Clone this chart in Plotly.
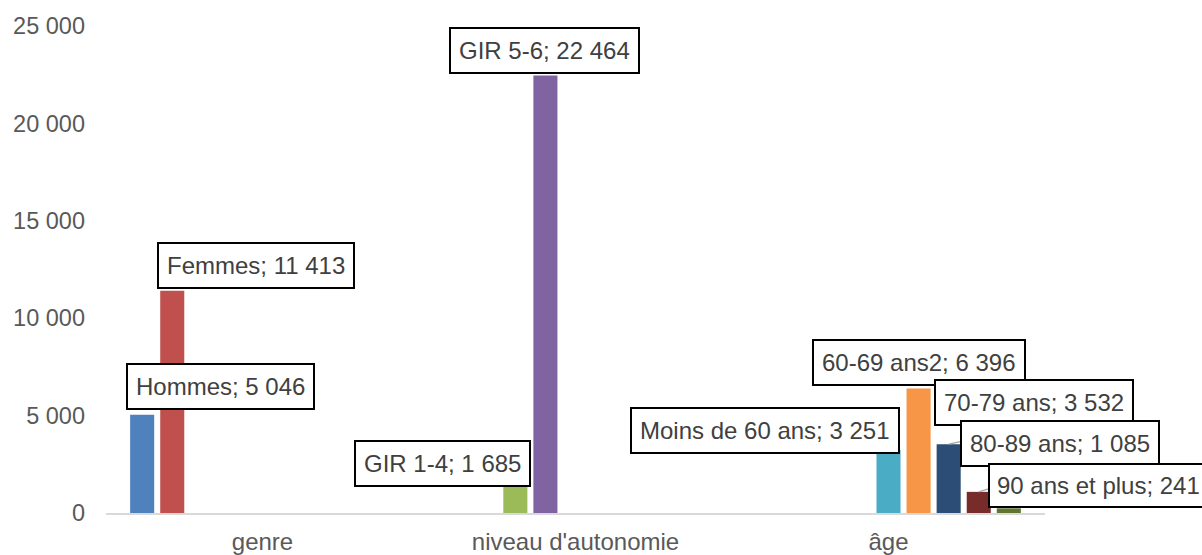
import plotly.graph_objects as go

categories = ["genre", "niveau d'autonomie", "âge"]
series_names = ["Hommes", "Femmes", "GIR 1-4", "GIR 5-6", "Moins de 60 ans",
                "60-69 ans2", "70-79 ans", "80-89 ans", "90 ans et plus"]
series_category = [0, 0, 1, 1, 2, 2, 2, 2, 2]
series_values = [5046, 11413, 1685, 22464, 3251, 6396, 3532, 1085, 241]
y_ticks = [0, 5000, 10000, 15000, 20000, 25000]

colors = ["#4F81BD", "#C0504D", "#9BBB59", "#8064A2", "#4BACC6",
          "#F79646", "#2C4D75", "#772C2A", "#5F7530"]
# label box offsets (pixels from bar top), vertical anchor, leader line shown
label_offsets = [(78, -28), (84, -25), (-73, -17), (-1, -25), (-124, -19),
                 (0, -26), (85, -18), (81, -25), (90, 0)]
label_yanchor = ["middle"] * 6 + ["bottom", "bottom", "bottom"]
leader_visible = [False, False, False, False, False, False, True, True, False]
label_pad = [8, 8, 8, 8, 8, 8, 8, 8, 7]

BARGAP = 0.135
GROUPGAP = 0.2
N = len(series_names)
FONT = "Liberation Sans, Arial, sans-serif"

def fmt(v):
    return f"{v:,}".replace(",", " ")

fig = go.Figure()
for i, name in enumerate(series_names):
    fig.add_trace(go.Bar(
        x=[categories[series_category[i]]],
        y=[series_values[i]],
        name=name,
        marker=dict(color=colors[i], line=dict(width=0)),
        showlegend=False,
        hoverinfo="skip",
    ))

slot = (1 - BARGAP) / N
annotations = []
for i, name in enumerate(series_names):
    xpos = series_category[i] - (1 - BARGAP) / 2 + slot * (i + 0.5)
    ax, ay = label_offsets[i]
    annotations.append(dict(
        x=xpos, y=series_values[i], xref="x", yref="y",
        text=f"{name}; {fmt(series_values[i])}",
        showarrow=True, arrowhead=0, arrowwidth=1.3,
        arrowcolor="#A6A6A6" if leader_visible[i] else "rgba(0,0,0,0)",
        ax=ax, ay=ay, standoff=0,
        xanchor="center", yanchor=label_yanchor[i],
        bgcolor="white", bordercolor="black", borderwidth=2, borderpad=label_pad[i],
        font=dict(family=FONT, size=24, color="#404040"),
    ))

fig.update_layout(
    width=1202, height=555,
    margin=dict(l=106, r=157, t=26, b=42),
    paper_bgcolor="white", plot_bgcolor="white",
    barmode="group", bargap=BARGAP, bargroupgap=GROUPGAP,
    separators=", ",
    font=dict(family=FONT, size=24, color="#595959"),
    annotations=annotations,
)
fig.update_xaxes(
    type="category", categoryorder="array", categoryarray=categories,
    range=[-0.5, 2.5], autorange=False, automargin=False,
    showline=True, linecolor="#D9D9D9", linewidth=2, ticks="",
    showgrid=False, zeroline=False, ticklabelstandoff=6,
    tickfont=dict(size=24, color="#595959"),
)
fig.update_yaxes(
    range=[0, 25000], autorange=False, automargin=False,
    tickvals=y_ticks, tickformat=",d",
    showgrid=False, zeroline=False, showline=False, ticks="",
    ticklabelstandoff=20, tickfont=dict(size=23.5, color="#595959"),
)

fig.write_html(
    "out.html",
    config={"displayModeBar": False},
    post_script="document.body.style.margin='0';document.body.style.overflow='hidden';",
)
